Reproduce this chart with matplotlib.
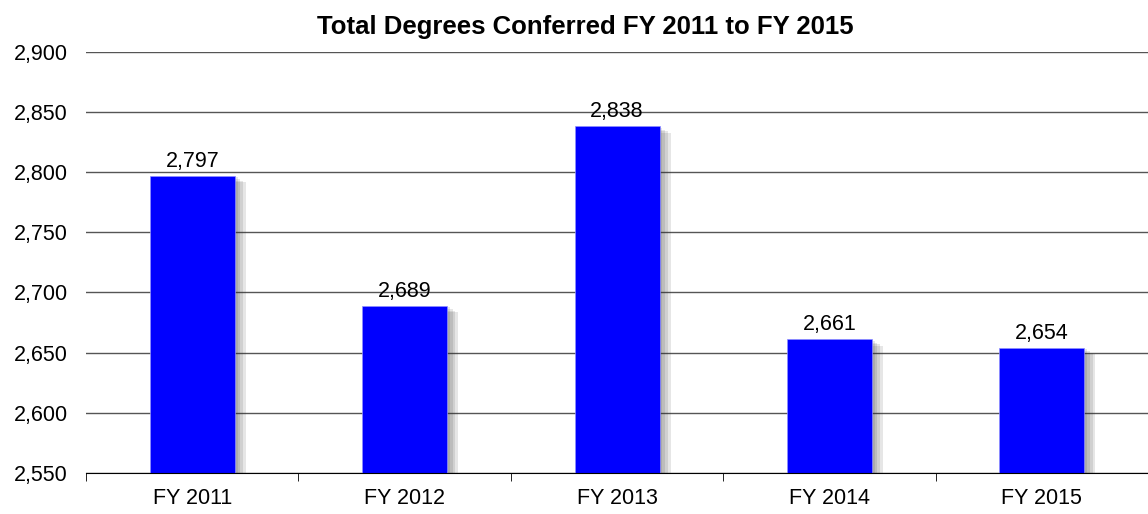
import matplotlib
matplotlib.use("Agg")
import matplotlib.pyplot as plt
import matplotlib.patheffects as pe
from matplotlib.ticker import FuncFormatter, FixedLocator

plt.rcParams['font.family'] = ['Liberation Sans', 'DejaVu Sans']

years = ["FY 2011", "FY 2012", "FY 2013", "FY 2014", "FY 2015"]
degrees = [2797, 2689, 2838, 2661, 2654]

fig = plt.figure(figsize=(11.48, 5.14), dpi=100)
ax = fig.add_axes([0.075, 0.080, 0.925, 0.819])

# soft drop shadow, a few layers
shadow = [pe.SimplePatchShadow(offset=(o, -o * 0.6), shadow_rgbFace='#333333', alpha=0.12)
          for o in (2, 4, 6, 8)]

x = range(len(years))
bars = ax.bar(x, degrees, width=0.4, color='#0000ff', edgecolor='#9090ff',
              linewidth=0.5, zorder=3, path_effects=shadow + [pe.Normal()])

for xi, v in zip(x, degrees):
    ax.annotate(f"{v:,}", (xi, v), xytext=(0, 3), textcoords='offset points',
                ha='center', va='bottom', fontsize=15.5, zorder=4)

ax.set_ylim(2550, 2900)
ax.set_xlim(-0.5, len(years) - 0.5)
ax.set_yticks(range(2550, 2901, 50))
ax.yaxis.set_major_formatter(FuncFormatter(lambda v, p: f"{int(v):,}"))
ax.yaxis.grid(True, color='#555555', linewidth=1.0, zorder=0)
ax.tick_params(axis='y', length=0, labelsize=15.5, pad=13)

ax.set_xticks(list(x))
ax.set_xticklabels(years, fontsize=15.5)
ax.tick_params(axis='x', which='major', length=0, pad=11)
ax.xaxis.set_minor_locator(FixedLocator([i + 0.5 for i in range(len(years) - 1)] + [-0.5]))
ax.tick_params(axis='x', which='minor', length=6, direction='out', color='black')

for s in ['left', 'right', 'top']:
    ax.spines[s].set_visible(False)
ax.spines['bottom'].set_color('black')
ax.spines['bottom'].set_zorder(5)

ax.set_title("Total Degrees Conferred FY 2011 to FY 2015", fontsize=18.5, fontweight='bold',
             pad=13, x=0.47)

fig.savefig("out.png", dpi=100)
